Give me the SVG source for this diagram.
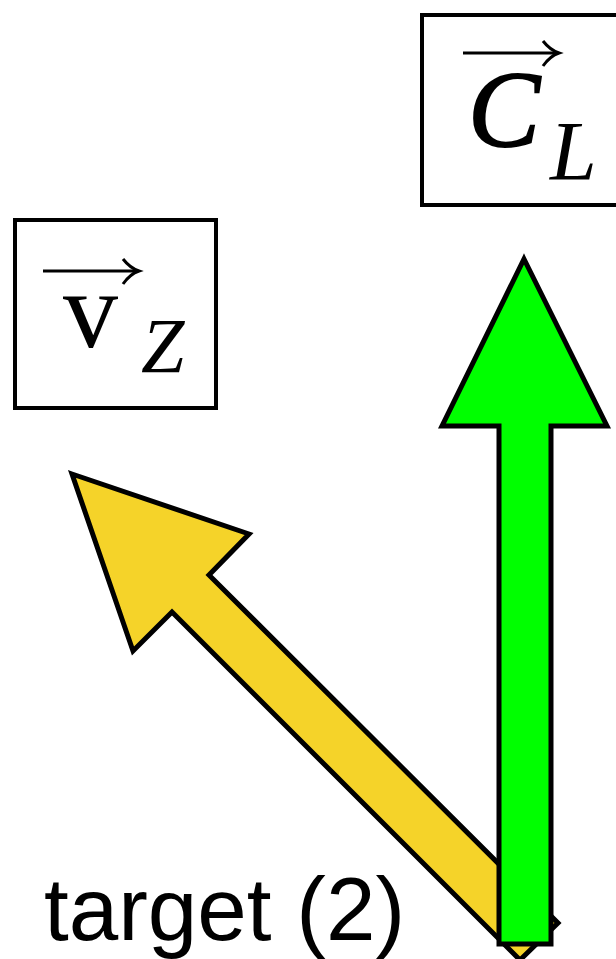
<svg xmlns="http://www.w3.org/2000/svg" width="616" height="959" viewBox="0 0 616 959">
<style>
.box{fill:#fff;stroke:#000;stroke-width:4}
.ser{font-family:"Liberation Serif","Times New Roman",serif;fill:#000}
.it{font-style:italic}
.vec{stroke:#000;stroke-width:3;fill:none}
.arr{stroke:#000;stroke-width:5;stroke-linejoin:miter}
</style>
<g id="connectors">
<polygon class="arr" fill="#F5D329" points="72,474 249,534 209,575 558,923 520,960 172,612 133,651"/>
<polygon class="arr" fill="#00FF00" points="524,259 607,426 551,426 551,944 499,944 499,426 442,426"/>
</g>
<g id="node-cl">
<rect class="box" x="422" y="15" width="200" height="190"/>
<line class="vec" x1="463" y1="53" x2="558" y2="53"/>
<path class="vec" d="M543,41 Q550,50 559,53 Q550,56 543,66"/>
<text class="ser it" x="468" y="146" font-size="108" stroke="#000" stroke-width="1.8">C</text>
<text class="ser it" x="550" y="180" font-size="84">L</text>
</g>
<g id="node-vz">
<rect class="box" x="15" y="220" width="201" height="188"/>
<line class="vec" x1="43" y1="271" x2="138" y2="271"/>
<path class="vec" d="M123,259 Q130,268 139,271 Q130,274 123,284"/>
<text class="ser" x="63" y="347" font-size="110">v</text>
<text class="ser it" x="141" y="372" font-size="78">Z</text>
</g>
<g id="label">
<text x="44" y="940" font-family="Liberation Sans, Arial, sans-serif" font-size="89" fill="#000">target (2)</text>
</g>
</svg>
